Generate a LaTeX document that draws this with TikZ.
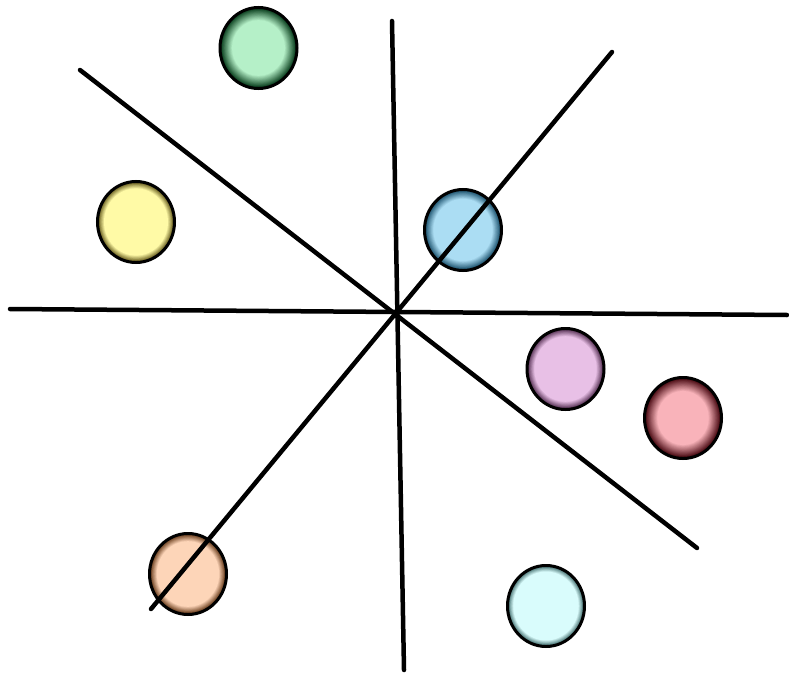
\documentclass[tikz,border=0pt]{standalone}
\usetikzlibrary{shapes.geometric}
\definecolor{gIn}{HTML}{B5F0C8}\definecolor{gOut}{HTML}{0E4422}
\definecolor{yIn}{HTML}{FFFAA6}\definecolor{yOut}{HTML}{6A6020}
\definecolor{bIn}{HTML}{ABDDF3}\definecolor{bOut}{HTML}{1E5470}
\definecolor{pIn}{HTML}{E8C0E6}\definecolor{pOut}{HTML}{5A3458}
\definecolor{rIn}{HTML}{F9B3BA}\definecolor{rOut}{HTML}{4E0E16}
\definecolor{oIn}{HTML}{FDD5B8}\definecolor{oOut}{HTML}{6A3E1E}
\definecolor{cIn}{HTML}{D9FCFC}\definecolor{cOut}{HTML}{3E6A6A}
\tikzset{
  ball/.style n args={4}{ellipse, draw=black, line width=3pt, minimum width=77pt, minimum height=81pt, inner sep=0pt,
    fill=#1,
    path picture={
      \foreach \t in {1.00,0.98,...,0.50} {
        \pgfmathsetmacro\pct{max(0,min(100,(\t-#3)/(#4-#3)*100))}
        \fill[#2!\pct!#1] (path picture bounding box.center) ellipse[x radius=\t*39pt, y radius=\t*41pt];
      }
    }},
  axis/.style={line width=4.5pt, line cap=round, black}
}
\begin{document}
\begin{tikzpicture}[x=1pt,y=-1pt]
\fill[white] (0,0) rectangle (789,674);
\useasboundingbox (0,0) rectangle (789,674);
% circles
\node[ball={gIn}{gOut}{0.68}{0.96}] (green) at (258.5,48) {};
\node[ball={yIn}{yOut}{0.82}{0.97}] (yellow) at (136,222) {};
\node[ball={bIn}{bOut}{0.76}{0.97}] (blue) at (463,230) {};
\node[ball={pIn}{pOut}{0.80}{0.97}] (purple) at (565.5,369) {};
\node[ball={rIn}{rOut}{0.66}{0.96}] (red) at (683,418) {};
\node[ball={oIn}{oOut}{0.80}{0.97}] (orange) at (188,574) {};
\node[ball={cIn}{cOut}{0.84}{0.98}] (cyan) at (546,606) {};
% line end points
\coordinate (vT) at (392,21);
\coordinate (vB) at (404,670);
\coordinate (hL) at (10,309);
\coordinate (hR) at (787,315);
\coordinate (dNW) at (80,70);
\coordinate (dSE) at (697,548);
\coordinate (dNE) at (612,52);
\coordinate (dSW) at (151,609);
\draw[axis] (vT) -- (vB);
\draw[axis] (hL) -- (hR);
\draw[axis] (dNW) -- (dSE);
\draw[axis] (dNE) -- (dSW);
\end{tikzpicture}
\end{document}
